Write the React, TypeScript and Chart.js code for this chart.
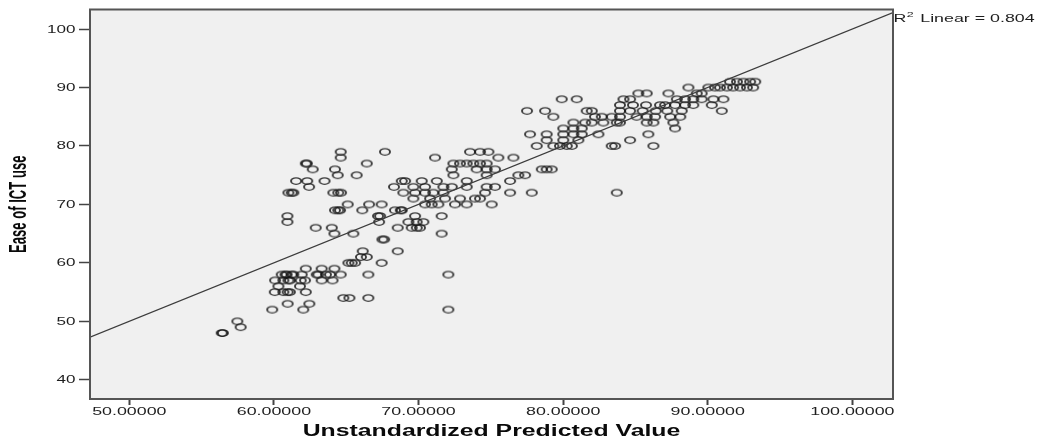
import { useEffect, useRef } from "react";
import { Chart, registerables } from "chart.js";

Chart.register(...registerables);

// ---- Data ----
const easeScores: number[] = [
  48, 49, 50, 52, 53, 54, 55, 56, 57, 58, 59, 60, 61, 62, 64, 65, 66, 67, 68, 69, 70,
  71, 72, 73, 74, 75, 76, 77, 78, 79, 80, 81, 82, 83, 84, 85, 86, 87, 88, 89, 90, 91,
];

const predictedByScore: number[][] = [
  [56.39, 56.47],
  [57.7],
  [57.47],
  [59.88, 62.03, 72.06],
  [60.95, 62.45],
  [64.8, 65.22, 66.53],
  [60.06, 60.65, 60.95, 61.1, 62.2],
  [60.31, 61.8],
  [60.08, 60.65, 61.0, 61.11, 61.85, 62.15, 63.3, 64.05],
  [60.54, 60.8, 60.88, 61.23, 61.34, 61.92, 62.96, 63.07, 63.6, 63.88, 64.62, 66.53, 72.06],
  [62.2, 63.3, 64.18],
  [65.15, 65.38, 65.61, 67.45],
  [66.02, 66.42],
  [66.14, 68.56],
  [67.5, 67.62],
  [64.18, 65.49, 71.6],
  [62.89, 64.0, 68.56, 69.53, 69.88, 70.1],
  [60.93, 67.27, 69.3, 69.87, 70.33],
  [60.93, 67.2, 67.34, 69.76, 71.6],
  [64.22, 64.45, 64.57, 66.11, 68.37, 68.77, 68.84],
  [65.1, 66.58, 67.45, 70.45, 70.91, 71.37, 72.52, 73.33, 75.06],
  [69.64, 70.8, 71.83, 72.87, 73.9, 74.25],
  [61.0, 61.23, 61.34, 64.11, 64.45, 64.64, 68.95, 69.76, 70.45, 71.02, 71.72, 74.6, 76.33, 77.83, 83.71],
  [62.43, 68.3, 69.64, 70.45, 71.72, 72.3, 73.33, 74.71, 75.29],
  [61.53, 62.3, 63.5, 68.84, 69.07, 70.22, 71.26, 73.33, 76.33],
  [64.41, 65.72, 72.41, 74.71, 76.9, 77.37],
  [62.68, 64.22, 72.3, 74.02, 74.71, 75.29, 78.52, 78.86, 79.21],
  [62.2, 62.28, 66.42, 72.41, 72.87, 73.33, 73.79, 74.25, 74.71],
  [64.62, 71.14, 75.52, 76.56],
  [64.62, 67.68, 73.56, 74.25, 74.83],
  [78.17, 79.32, 79.78, 80.25, 80.6, 83.36, 83.59, 86.24],
  [78.86, 80.01, 81.05, 84.63],
  [77.71, 78.86, 80.01, 80.71, 81.29, 82.44, 85.89],
  [80.01, 80.71, 81.29, 87.74],
  [80.71, 81.52, 81.98, 82.78, 83.71, 83.93, 85.78, 86.24, 87.62],
  [79.32, 82.2, 82.67, 83.36, 83.93, 85.08, 85.78, 86.36, 87.4, 88.1],
  [77.5, 78.75, 81.63, 81.98, 83.93, 84.63, 85.5, 86.4, 87.2, 88.2, 90.97],
  [83.93, 84.83, 85.73, 86.7, 87.05, 87.74, 88.43, 89.0, 90.28],
  [79.9, 80.94, 84.17, 84.63, 87.86, 88.43, 89.0, 89.58, 90.39, 91.08],
  [85.2, 85.78, 87.28, 89.24, 89.58],
  [88.66, 90.04, 90.5, 90.85, 91.33, 91.75, 92.23, 92.71, 93.14],
  [91.54, 92.02, 92.47, 92.93, 93.28],
];

const xTickValues: number[] = [50, 60, 70, 80, 90, 100];
const yTickValues: number[] = [40, 50, 60, 70, 80, 90, 100];
const xRange: number[] = [47.28, 102.81];
const yRange: number[] = [36.7, 103.34];
const fitIntercept = 0;
const fitSlope = 1;
const rSquaredValue = "0.804";
const xTitle = "Unstandardized Predicted Value";
const yTitle = "Ease of ICT use";

// ---- Styling helpers ----
const FONT = '"Liberation Sans", Arial, Helvetica, sans-serif';
const STRETCH = 1.55;

function makeMarker(): HTMLCanvasElement {
  const c = document.createElement("canvas");
  c.width = 16;
  c.height = 12;
  const g = c.getContext("2d")!;
  g.save();
  g.translate(8, 6);
  g.scale(STRETCH, 1);
  g.beginPath();
  g.arc(0, 0, 3.25, 0, Math.PI * 2);
  g.lineWidth = 1.25;
  g.strokeStyle = "rgba(20,20,20,0.82)";
  g.stroke();
  g.restore();
  return c;
}

function stretchedText(
  ctx: CanvasRenderingContext2D,
  text: string,
  x: number,
  y: number,
  align: CanvasTextAlign,
  baseline: CanvasTextBaseline,
  font: string,
  color: string,
  sx: number
) {
  ctx.save();
  ctx.translate(x, y);
  ctx.scale(sx, 1);
  ctx.font = font;
  ctx.fillStyle = color;
  ctx.textAlign = align;
  ctx.textBaseline = baseline;
  ctx.fillText(text, 0, 0);
  ctx.restore();
}

const framePlugin = {
  id: "spssFrame",
  beforeDraw(chart: any) {
    const { ctx, chartArea, width, height } = chart;
    ctx.save();
    ctx.fillStyle = "#ffffff";
    ctx.fillRect(0, 0, width, height);
    ctx.fillStyle = "#f0f0f0";
    ctx.fillRect(chartArea.left, chartArea.top, chartArea.right - chartArea.left, chartArea.bottom - chartArea.top);
    ctx.restore();
  },
  afterDraw(chart: any) {
    const { ctx, chartArea } = chart;
    const xs = chart.scales.x;
    const ys = chart.scales.y;
    ctx.save();
    ctx.strokeStyle = "#555555";
    ctx.lineWidth = 2;
    ctx.strokeRect(chartArea.left, chartArea.top, chartArea.right - chartArea.left, chartArea.bottom - chartArea.top);
    ctx.restore();

    // x tick labels
    xs.ticks.forEach((t: any) => {
      const px = xs.getPixelForValue(t.value);
      stretchedText(ctx, Number(t.value).toFixed(5), px, 412, "center", "middle", `11.5px ${FONT}`, "#1e1e1e", STRETCH);
    });
    // y tick labels
    ys.ticks.forEach((t: any) => {
      const py = ys.getPixelForValue(t.value);
      stretchedText(ctx, String(t.value), 75.5, py + 0.5, "right", "middle", `11px ${FONT}`, "#1e1e1e", STRETCH);
    });

    // x title
    const cx = (chartArea.left + chartArea.right) / 2;
    stretchedText(ctx, xTitle, cx, 435.5, "center", "alphabetic", `bold 16px ${FONT}`, "#0a0a0a", STRETCH);

    // y title (narrow bold, rotated)
    const cy = (chartArea.top + chartArea.bottom) / 2;
    ctx.save();
    ctx.translate(19, cy);
    ctx.rotate(-Math.PI / 2);
    ctx.scale(0.82, STRETCH);
    ctx.font = `bold 16px ${FONT}`;
    ctx.fillStyle = "#0a0a0a";
    ctx.textAlign = "center";
    ctx.textBaseline = "middle";
    ctx.fillText(yTitle, 0, 0);
    ctx.restore();

    // R² label
    const x0 = chartArea.right + 0.5;
    ctx.save();
    ctx.font = `11.5px ${FONT}`;
    const wR = ctx.measureText("R").width * STRETCH;
    ctx.font = `8px ${FONT}`;
    const w2 = ctx.measureText("2").width * STRETCH;
    ctx.restore();
    stretchedText(ctx, "R", x0, 21.5, "left", "alphabetic", `11.5px ${FONT}`, "#1e1e1e", STRETCH);
    stretchedText(ctx, "2", x0 + wR + 0.5, 17, "left", "alphabetic", `8px ${FONT}`, "#1e1e1e", STRETCH);
    stretchedText(ctx, " Linear = " + rSquaredValue, x0 + wR + w2 + 2, 21.5, "left", "alphabetic", `11.5px ${FONT}`, "#1e1e1e", STRETCH);
  },
};

export default function App() {
  const canvasRef = useRef<HTMLCanvasElement | null>(null);

  useEffect(() => {
    if (!canvasRef.current) return;
    const marker = makeMarker();
    const points: { x: number; y: number }[] = [];
    easeScores.forEach((score, i) => {
      predictedByScore[i].forEach((p) => points.push({ x: p, y: score }));
    });
    const fitLine = [
      { x: xRange[0], y: fitIntercept + fitSlope * xRange[0] },
      { x: xRange[1], y: fitIntercept + fitSlope * xRange[1] },
    ];

    const chart = new Chart(canvasRef.current, {
      type: "scatter",
      data: {
        datasets: [
          {
            type: "line",
            label: "R2 Linear",
            data: fitLine,
            borderColor: "#3c3c3c",
            borderWidth: 1.3,
            pointRadius: 0,
            fill: false,
            tension: 0,
          } as any,
          {
            label: "Ease of ICT use",
            data: points,
            pointStyle: marker as any,
            pointRadius: 6,
            pointHoverRadius: 6,
          },
        ],
      },
      options: {
        animation: false,
        responsive: false,
        events: [],
        layout: { padding: { top: 9.5, right: 154, left: 0, bottom: 0 } },
        plugins: { legend: { display: false }, tooltip: { enabled: false } },
        scales: {
          x: {
            type: "linear",
            min: xRange[0],
            max: xRange[1],
            afterBuildTicks: (s: any) => {
              s.ticks = xTickValues.map((v) => ({ value: v }));
            },
            afterFit: (s: any) => {
              s.height = 40;
            },
            ticks: { display: false },
            border: { display: false },
            grid: {
              display: true,
              drawOnChartArea: false,
              drawTicks: true,
              tickLength: 6,
              tickColor: "#444444",
              tickWidth: 2,
            },
          },
          y: {
            type: "linear",
            min: yRange[0],
            max: yRange[1],
            afterBuildTicks: (s: any) => {
              s.ticks = yTickValues.map((v) => ({ value: v }));
            },
            afterFit: (s: any) => {
              s.width = 90;
            },
            ticks: { display: false },
            border: { display: false },
            grid: {
              display: true,
              drawOnChartArea: false,
              drawTicks: true,
              tickLength: 11,
              tickColor: "#444444",
              tickWidth: 1.5,
            },
          },
        },
      },
      plugins: [framePlugin],
    });
    return () => chart.destroy();
  }, []);

  return (
    <div style={{ position: "absolute", left: 0, top: 0, width: 1047, height: 439, background: "#fff" }}>
      <canvas ref={canvasRef} width={1047} height={439} style={{ display: "block" }} />
    </div>
  );
}
